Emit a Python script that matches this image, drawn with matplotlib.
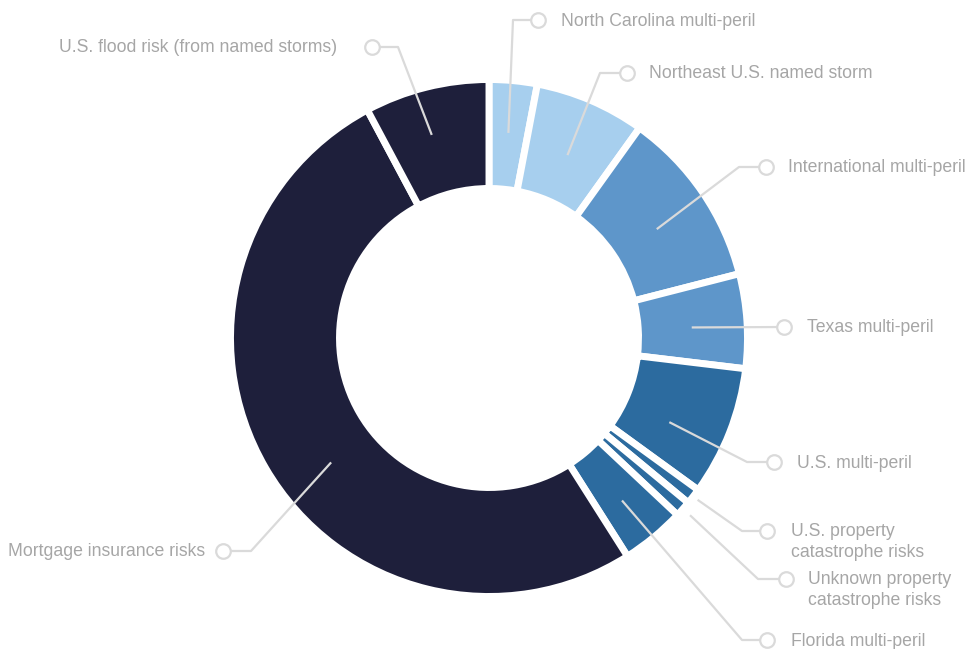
import numpy as np
import matplotlib
matplotlib.use("Agg")
import matplotlib.pyplot as plt

# ---- data ----
labels = ["North Carolina multi-peril", "Northeast U.S. named storm",
          "International multi-peril", "Texas multi-peril", "U.S. multi-peril",
          "U.S. property\ncatastrophe risks", "Unknown property\ncatastrophe risks",
          "Florida multi-peril", "Mortgage insurance risks",
          "U.S. flood risk (from named storms)"]
values = [3.0, 6.9, 11.1, 5.9, 8.1, 1.0, 1.0, 4.0, 51.2, 7.8]

# ---- style / layout ----
LIGHT, MID, DARK, NAVY = "#a7cfee", "#5e96ca", "#2c6b9f", "#1e1f3b"
colors = [LIGHT, LIGHT, MID, MID, DARK, DARK, DARK, DARK, NAVY, NAVY]
W, H = 968, 649
CX, CY = 489, 338           # pixel coords (y down)
R_OUT, R_W = 258.5, 109

leader_r = [206, 199, 200, 203, 199, 264, 268, 210, 201, 211]
leader_da = [0, 0, 1.4, 0.8, 3.6, 0, 0, 0.3, -8, -1.7]
elbows = [(513, 20), (600, 73), (739, 167), None, (747, 462), (742, 531),
          (758, 579), (742, 640), (251, 551), (398, 47)]
circles = [(538, 20), (627, 73), (766, 167), (784, 327), (774, 462), (767, 531),
           (786, 579), (767, 640), (223, 551), (372, 47)]
text_x = [561, 649, 788, 807, 797, 791, 808, 791, 205, 337]
text_ha = ["left"] * 8 + ["right", "right"]

TXT = "#a6a6a6"
LN = "#dadada"

fig = plt.figure(figsize=(W / 100, H / 100), dpi=100)
ax = fig.add_axes([0, 0, 1, 1])

def Y(y):
    return H - y

wedges, _ = ax.pie(values, radius=R_OUT, center=(CX, Y(CY)), startangle=90,
                   counterclock=False, colors=colors,
                   wedgeprops=dict(width=R_W, edgecolor="white", linewidth=5))
ax.set_xlim(0, W)
ax.set_ylim(0, H)
ax.set_aspect("equal")
ax.axis("off")

total = sum(values)
cum = 0.0
for i, v in enumerate(values):
    mid = (cum + v / 2) / total * 360 + leader_da[i]   # clockwise from top
    cum += v
    a = np.deg2rad(mid)
    sx = CX + leader_r[i] * np.sin(a)
    sy = CY - leader_r[i] * np.cos(a)
    pts = [(sx, sy)]
    if elbows[i] is not None:
        pts.append(elbows[i])
    pts.append(circles[i])
    xs = [p[0] for p in pts]
    ys = [Y(p[1]) for p in pts]
    ax.plot(xs, ys, color=LN, lw=1.6, solid_capstyle="butt", zorder=5)
    ax.plot([circles[i][0]], [Y(circles[i][1])], marker="o", ms=10.5,
            mfc="white", mec=LN, mew=1.6, zorder=6)
    for k, line in enumerate(labels[i].split("\n")):
        ax.text(text_x[i], Y(circles[i][1] + 5.5 + k * 20.5), line,
                ha=text_ha[i], va="baseline", fontsize=12.7,
                family=["Liberation Sans", "DejaVu Sans"], color=TXT, zorder=7)

fig.savefig("out.png", dpi=100)
